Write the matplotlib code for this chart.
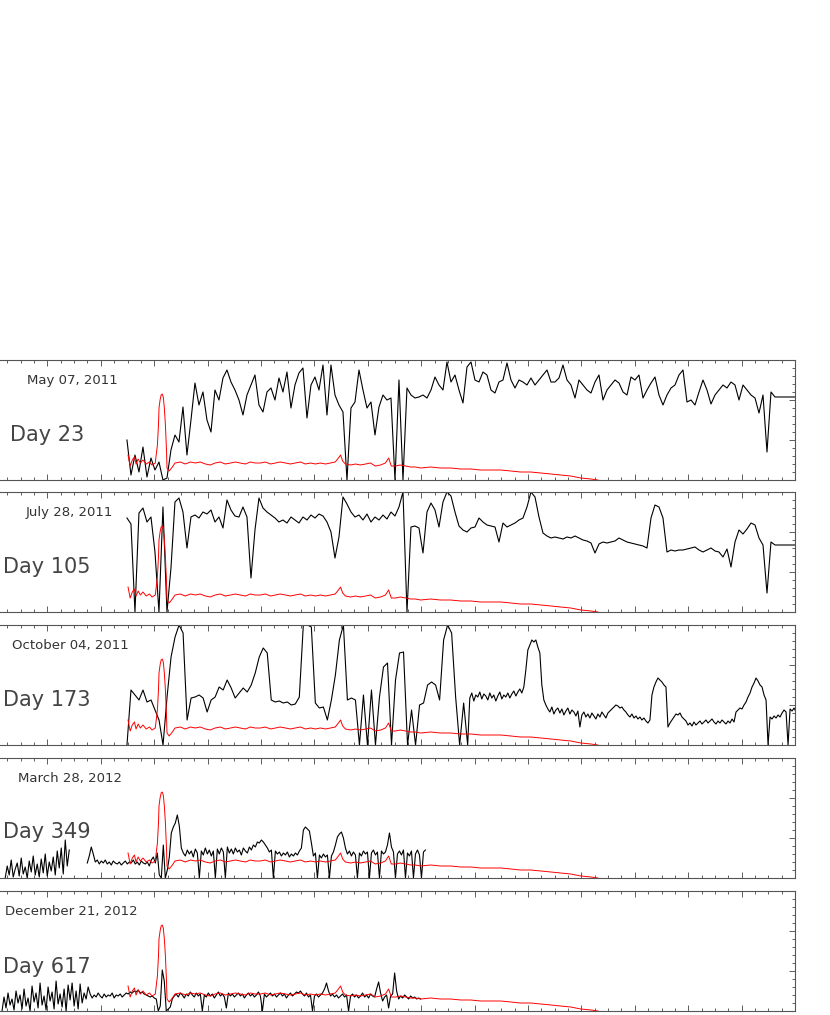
import numpy as np
import matplotlib
matplotlib.use("Agg")
import matplotlib.pyplot as plt
from matplotlib.ticker import MultipleLocator

# panel labels
dates = ["May 07, 2011", "July 28, 2011", "October 04, 2011",
         "March 28, 2012", "December 21, 2012"]
days = ["Day 23", "Day 105", "Day 173", "Day 349", "Day 617"]

# black traces: each segment is evenly sampled between (start, end) on the time axis
black1 = [40, 5, 25, 8, 33, 3, 22, 10, 18, 0, 2, 30, 45, 38, 73, 25, 60, 97, 75, 88,
          60, 48, 90, 80, 102, 110, 98, 90, 80, 65, 85, 95, 105, 75, 68, 88, 92, 80, 102, 88,
          108, 72, 95, 107, 112, 62, 95, 103, 90, 115, 65, 115, 85, 75, 68, 0, 72, 78, 110, 90,
          72, 78, 45, 73, 85, 80, 82, 0, 100, 0, 92, 85, 82, 83, 85, 82, 90, 103, 95, 90,
          118, 98, 105, 90, 77, 113, 118, 100, 98, 108, 105, 90, 87, 98, 100, 117, 100, 92, 100, 98,
          95, 102, 95, 100, 105, 110, 98, 98, 102, 115, 100, 95, 82, 100, 95, 90, 87, 98, 105, 80,
          90, 95, 100, 97, 88, 85, 103, 100, 105, 82, 90, 97, 103, 85, 75, 85, 92, 95, 105, 110,
          78, 80, 75, 88, 100, 90, 76, 85, 90, 95, 92, 98, 95, 80, 95, 90, 85, 82, 67, 85,
          28, 88, 83, 83, 83, 83, 83, 83]

black2 = [94, 88, 0, 99, 104, 90, 95, 60, 0, 105, 0, 44, 110, 114, 100, 64, 95, 97, 94, 100,
          98, 102, 90, 95, 84, 112, 102, 96, 95, 105, 95, 34, 82, 114, 104, 100, 97, 94, 90, 92,
          89, 95, 92, 89, 95, 92, 97, 94, 98, 96, 90, 80, 54, 75, 115, 108, 100, 95, 97, 92,
          98, 90, 95, 92, 97, 93, 100, 96, 105, 120, 0, 85, 86, 84, 59, 100, 109, 102, 85, 110,
          120, 116, 100, 86, 82, 80, 84, 85, 94, 90, 87, 86, 85, 70, 89, 85, 87, 89, 92, 94,
          105, 120, 115, 95, 79, 76, 74, 75, 74, 73, 75, 74, 76, 74, 72, 71, 69, 59, 68, 70,
          69, 70, 71, 74, 72, 70, 69, 68, 67, 66, 64, 94, 107, 105, 94, 60, 62, 61, 62, 62,
          63, 64, 65, 62, 60, 62, 64, 61, 60, 55, 63, 45, 70, 82, 78, 83, 89, 87, 74, 67,
          19, 70, 67, 67, 67, 67, 67, 67]

black3a = [0, 55, 50, 45, 55, 43, 45, 35, 25, 0, 48, 88, 108, 120, 112, 25, 47, 48, 50, 47,
           33, 45, 48, 58, 55, 65, 57, 47, 52, 57, 53, 60, 72, 88, 97, 92, 45, 43, 44, 42,
           43, 40, 41, 48, 120, 120, 118, 42, 37, 38, 25, 45, 70, 105, 120, 45, 47, 45, 0, 50,
           0, 55, 0, 48, 78, 82, 0, 65, 92, 93, 0, 35, 0, 40, 42, 60, 63, 60, 45, 105,
           120, 112, 48, 0, 42, 0]

black3b = [47, 52, 44, 50, 48, 53, 46, 51, 49, 45, 52, 47, 50, 44, 49, 53, 46, 50, 48, 52,
           47, 51, 54, 49, 53, 56, 52, 58,
           75, 95, 100, 105, 103, 105, 98, 92, 60,
           45, 40, 36, 33, 38, 31, 35, 37, 32, 36, 30, 34, 37, 31, 35, 33, 29, 34, 18,
           30, 33, 28, 31, 27, 32, 29, 26, 31, 28, 33, 30, 27, 32, 34, 36, 38, 40, 39, 37,
           38, 35, 33, 30, 28, 31, 27, 29, 26, 28, 25, 27, 24, 22, 25,
           50, 58, 63, 67, 65, 63, 60, 58,
           18, 22, 25, 28, 31, 30, 32, 28, 26, 24, 20, 22, 19, 23, 20, 22, 24, 21, 23, 25,
           22, 24, 26, 23, 21, 24, 22, 25, 23, 21, 24, 22, 26, 23,
           33, 35, 37, 36, 40, 43, 48, 52, 58, 62, 67, 64, 60, 58, 50, 45,
           0, 28, 26, 29, 27, 30, 28, 32, 35, 33, 0, 36, 34, 37, 33]

nan = np.nan
black4 = [0, 12, 3, 18, 1, 9, 15, 2, 20, 4, 11, 0, 17, 6, 22, 3, 14, 1, 19, 5,
          24, 2, 16, 7, 21, 3, 27, 10, 30, 4, 38, 12, 28,
          nan, nan, nan, nan, nan, nan, nan, nan,
          15, 22, 31, 24, 16, 18, 14, 17, 15, 18, 14, 16, 13, 17, 15, 14, 16, 13, 15, 17,
          14, 16, 15, 18, 14, 16, 13, 17, 15, 14, 16, 12, 18, 21, 15, 25, 3, 0, 33, 0,
          8, 21, 45, 51, 55, 63, 52, 30, 25, 22, 28, 24, 27, 21, 29, 25, 0, 27, 23, 30,
          24, 28, 22, 27, 0, 29, 24, 30, 26, 0, 31, 25, 29, 24, 30, 26, 28, 23, 30, 27,
          25, 31, 28, 33, 31, 36, 35, 38, 36, 33, 30, 26, 28, 0, 27, 24, 26, 22, 25, 23,
          26, 21, 24, 22, 25, 23, 27, 30, 48, 51, 49, 47, 35, 22, 25, 0, 23, 20, 24, 21,
          23, 0, 22, 26, 33, 41, 44, 46, 40, 30, 24, 27, 22, 26, 23, 0, 25, 22, 27, 24,
          26, 0, 25, 28, 23, 26, 0, 27, 24, 26, 33, 45, 31, 26, 0, 24, 27, 23, 28, 0,
          25, 22, 27, 0, 24, 28, 23, 0, 26, 28]

black5 = [0, 14, 3, 18, 6, 12, 1, 20, 8, 16, 2, 22, 5, 13, 0, 25, 9, 18, 3, 28,
          6, 15, 1, 24, 10, 19, 2, 30, 7, 17, 4, 22, 0, 26, 11, 28, 5, 20, 2, 27,
          8, 18, 12, 24,
          17, 13, 16, 14, 18, 15, 13, 17, 14, 16, 15, 18, 13, 16, 15, 17, 14, 16, 18, 17,
          19, 18, 20, 19, 21, 18, 19, 17, 16, 15, 14, 15, 13, 12,
          0, 5, 41, 30, 0, 2, 4,
          12, 15, 17, 14, 18, 16, 13, 17, 15, 19, 16, 14, 18, 15, 17, 0, 16, 14, 18, 15,
          17, 13, 16, 19, 15, 17, 14, 3, 18, 15, 17, 14, 16, 18, 15, 17, 13, 16, 18, 15,
          17, 14, 16, 19, 15, 0, 17, 14, 16, 18, 15, 17, 14, 16, 18, 15, 17, 13, 16, 18,
          15, 17, 19, 18, 20, 17, 15, 18, 14, 16, 0, 15, 17, 14, 16, 18, 22, 28, 20, 15,
          17, 14, 16, 13, 15, 17, 14, 16, 0, 15, 17, 14, 16, 13, 15, 18, 14, 16, 13, 17,
          15, 14, 22, 29, 18, 10, 14, 16, 3, 15, 17, 38, 20, 12, 15, 13, 16, 14, 12, 15,
          13, 14, 12, 13, 12]

black_segments = [
    [((2.49, 15.0), black1)],
    [((2.49, 15.0), black2)],
    [((2.49, 8.87), black3a), ((8.91, 15.02), black3b)],
    [((0.21, 8.08), black4)],
    [((0.15, 7.99), black5)],
]

# red reference curve (same in every panel)
red_x = [2.51, 2.55, 2.59, 2.63, 2.66, 2.70, 2.74, 2.79, 2.85, 2.91, 2.96, 3.02, 3.06, 3.08,
         3.09, 3.11, 3.13, 3.15, 3.17, 3.19, 3.21, 3.23, 3.24, 3.28, 3.34, 3.39, 3.49, 3.58,
         3.68, 3.77, 3.86, 3.96, 4.05, 4.14, 4.24, 4.33, 4.43, 4.52, 4.61, 4.71, 4.80, 4.89,
         4.99, 5.08, 5.18, 5.27, 5.36, 5.46, 5.55, 5.64, 5.74, 5.83, 5.93, 6.02, 6.11, 6.21,
         6.30, 6.39, 6.45, 6.49, 6.53, 6.58, 6.68, 6.77, 6.86, 6.96, 7.05, 7.14, 7.24, 7.33,
         7.39, 7.44, 7.52, 7.61, 7.71, 7.80, 7.89, 7.99, 8.18, 8.36, 8.55, 8.74, 8.93, 9.11,
         9.30, 9.49, 9.68, 9.86, 10.05, 10.24, 10.43, 10.61, 10.80, 10.99, 11.18, 11.31]
red_y = [25, 14, 20, 23, 16, 21, 17, 20, 16, 18, 15, 17, 35, 55,
         72, 80, 85, 86, 83, 72, 55, 30, 12, 9, 13, 17, 18, 16,
         18, 17, 18, 16, 15, 17, 18, 16, 17, 18, 17, 16, 18, 17,
         17, 18, 16, 17, 18, 17, 16, 17, 18, 16, 17, 16, 17, 16,
         17, 18, 22, 25, 19, 16, 15, 16, 15, 16, 17, 14, 15, 17,
         22, 14, 14, 15, 14, 13, 13, 12, 13, 12, 12, 11, 11, 10,
         10, 10, 9, 8, 8, 7, 6, 5, 4, 2, 1, 0]

# layout (figure pixels)
W, H = 830, 1015
panel_top = [360, 492, 625, 758, 891]
panel_h = 120
ax_left, ax_right = -6, 795
date_pos = [(0.041, 0.833), (0.039, 0.833), (0.022, 0.833), (0.030, 0.833), (0.014, 0.825)]
day_pos = [(0.020, 0.375), (0.011, 0.375), (0.011, 0.375), (0.011, 0.383), (0.011, 0.367)]

fig = plt.figure(figsize=(W / 100, H / 100), dpi=100)

for i in range(5):
    bottom_px = panel_top[i] + panel_h
    ax = fig.add_axes([ax_left / W, 1 - bottom_px / H,
                       (ax_right - ax_left) / W, panel_h / H])
    ax.set_xlim(0, 15)
    ax.set_ylim(0, 120)

    # join the segments of a panel into one continuous trace
    xs = np.concatenate([np.linspace(x0, x1, len(v)) for (x0, x1), v in black_segments[i]])
    ys = np.concatenate([np.asarray(v, dtype=float) for _, v in black_segments[i]])
    ax.plot(xs, ys, color="black", lw=0.8)
    ax.plot(red_x, red_y, color="red", lw=0.7)

    # ticks on top, bottom and right, pointing inward, no labels
    ax.xaxis.set_major_locator(MultipleLocator(1))
    ax.xaxis.set_minor_locator(MultipleLocator(0.25))
    ax.yaxis.set_major_locator(MultipleLocator(40))
    ax.yaxis.set_minor_locator(MultipleLocator(8))
    ax.tick_params(which="both", direction="in", top=True, right=True, left=False,
                   labelbottom=False, labelleft=False, color="#444444", width=0.6)
    ax.tick_params(which="major", length=4.5)
    ax.tick_params(which="minor", length=2.2)
    for sp in ax.spines.values():
        sp.set_color("#555555")
        sp.set_linewidth(0.8)

    ax.text(date_pos[i][0], date_pos[i][1], dates[i], transform=ax.transAxes,
            fontsize=9.5, color="#333333", ha="left", va="center")
    ax.text(day_pos[i][0], day_pos[i][1], days[i], transform=ax.transAxes,
            fontsize=15, color="#444444", ha="left", va="center")

fig.savefig("out.png", dpi=100)
